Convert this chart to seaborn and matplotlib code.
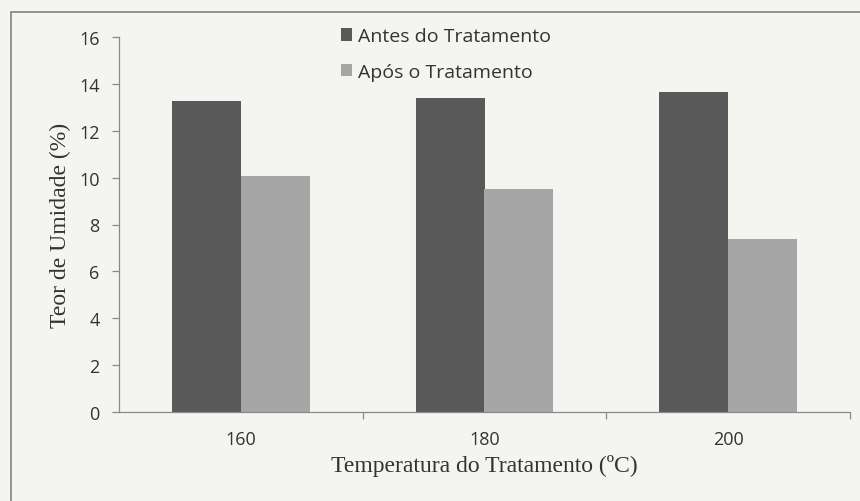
import matplotlib
matplotlib.use("Agg")
import matplotlib.pyplot as plt
from matplotlib.patches import Rectangle
from matplotlib.ticker import FixedLocator
import seaborn as sns
import pandas as pd

categories = ["160", "180", "200"]
antes = [13.25, 13.4, 13.65]
apos = [10.05, 9.5, 7.4]
series_names = ["Antes do Tratamento", "Após o Tratamento"]
y_ticks = [0, 2, 4, 6, 8, 10, 12, 14, 16]

df = pd.DataFrame({
    "Temperatura": categories * 2,
    "Valor": antes + apos,
    "Serie": [series_names[0]] * 3 + [series_names[1]] * 3,
})

sns.set_theme(style="white")
bg = "#f4f4f1"
fig = plt.figure(figsize=(8.6, 5.02), dpi=100, facecolor=bg)
ax = fig.add_axes([119/860, 1-413/502, (850-119)/860, (413-38)/502])
ax.set_facecolor(bg)

sns.barplot(data=df, x="Temperatura", y="Valor", hue="Serie",
            palette=["#595959", "#a6a6a6"], width=0.565, saturation=1,
            order=categories, hue_order=series_names, ax=ax, legend=True,
            linewidth=0)

ax.set_xlim(-0.5, 2.5)
ax.set_ylim(0, 16)
ax.set_yticks(y_ticks)
tick_font = "Open Sans"
ax.set_yticklabels([str(t) for t in y_ticks], fontsize=13, family=tick_font, color="#333333")
ax.set_xticks(range(len(categories)))
ax.set_xticklabels(categories, fontsize=13, family=tick_font, color="#333333")
ax.tick_params(axis="x", which="major", length=0, pad=13)
ax.xaxis.set_minor_locator(FixedLocator([0.5, 1.5, 2.5]))
ax.tick_params(axis="x", which="minor", length=5, width=0.9, color="#8a8a8a", direction="out", bottom=True)
ax.tick_params(axis="y", which="major", length=5, width=0.9, color="#8a8a8a", direction="out", left=True, pad=9)

for s in ["top", "right"]:
    ax.spines[s].set_visible(False)
for s in ["left", "bottom"]:
    ax.spines[s].set_color("#8a8a8a")
    ax.spines[s].set_linewidth(0.9)

ax.set_xlabel("Temperatura do Tratamento (ºC)", family="Liberation Serif", fontsize=17, color="#333333", labelpad=4)
ax.set_ylabel("Teor de Umidade (%)", family="Liberation Serif", fontsize=17, color="#333333", labelpad=6)

handles, labels = ax.get_legend_handles_labels()
leg = ax.legend(handles, labels, loc="upper left", bbox_to_anchor=(323/860, 1-11/502),
                bbox_transform=fig.transFigure, frameon=False,
                handlelength=0.6, handleheight=0.6, handletextpad=0.3,
                labelspacing=0.9, prop={"family": tick_font, "size": 14})
for t in leg.get_texts():
    t.set_color("#333333")

top = 1 - 13/502
fig.patches.append(Rectangle((11/860, -0.2), 1.2, top + 0.2, transform=fig.transFigure,
                             fill=False, edgecolor="#8a8a8a", linewidth=1.3, figure=fig))

fig.savefig("out.png", dpi=100, facecolor=bg)
